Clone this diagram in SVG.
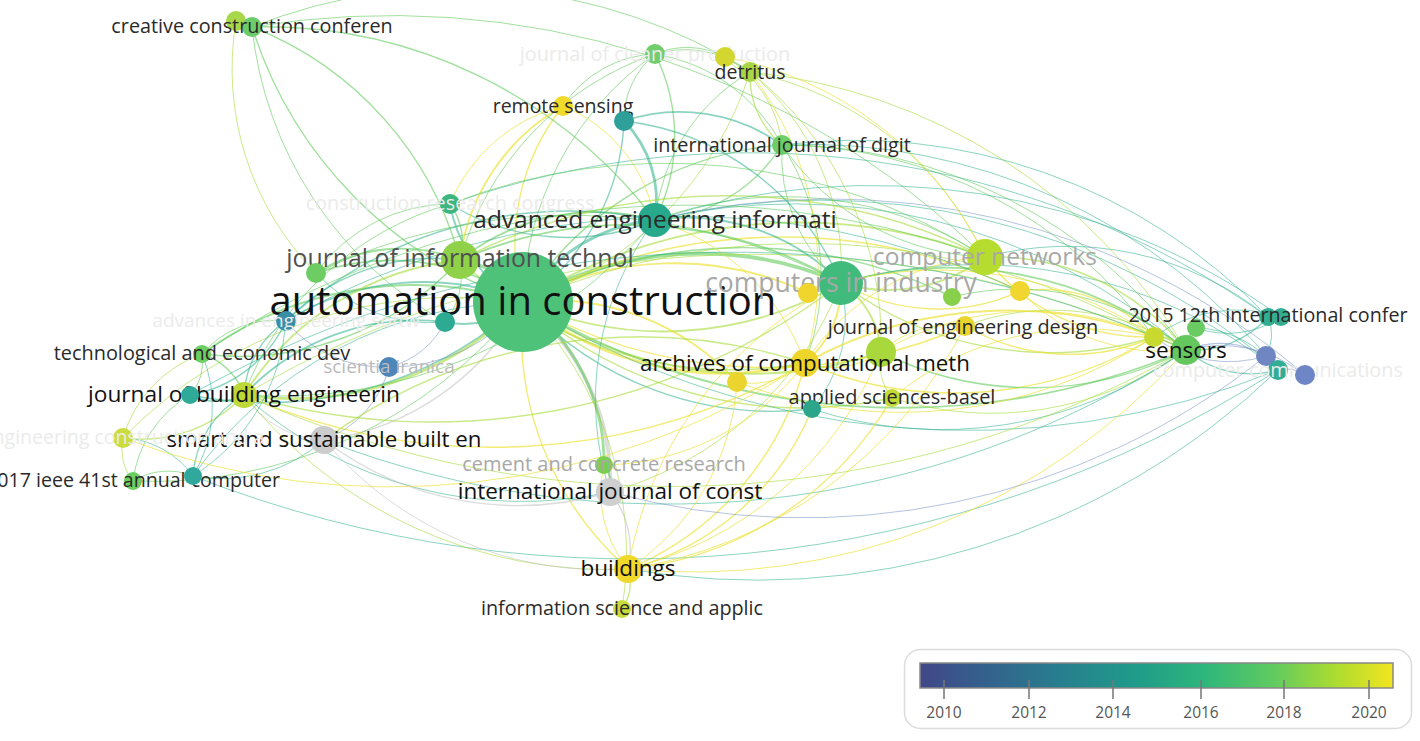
<svg xmlns="http://www.w3.org/2000/svg" width="1420" height="741" viewBox="0 0 1420 741">
<defs>
<linearGradient id="vir" x1="0" y1="0" x2="1" y2="0">
<stop offset="0" stop-color="#404788"/>
<stop offset="0.15" stop-color="#33638d"/>
<stop offset="0.3" stop-color="#277f8e"/>
<stop offset="0.45" stop-color="#1f9a8a"/>
<stop offset="0.6" stop-color="#2db67c"/>
<stop offset="0.75" stop-color="#62cb5f"/>
<stop offset="0.88" stop-color="#addc30"/>
<stop offset="1" stop-color="#f3e51f"/>
</linearGradient>
<style>
#connectors path{fill:none;stroke-linecap:round}
.g{stroke:#62cb5c;stroke-opacity:.6}
.t{stroke:#2db08d;stroke-opacity:.55}
.y{stroke:#ece33a;stroke-opacity:.7}
.l{stroke:#a6dc3a;stroke-opacity:.6}
.b{stroke:#6b88c2;stroke-opacity:.5}
.s{stroke:#c4c4c4;stroke-opacity:.6}
.w1{stroke-width:1}
.w2{stroke-width:1.4}
.w3{stroke-width:1.9}
.w4{stroke-width:2.8}
.w5{stroke-width:3.8}
text{font-family:"Open Sans","Noto Sans","Liberation Sans",sans-serif;text-anchor:middle}
.k0{fill:#111}
.k1{fill:#2a2a2a}
.k2{fill:#505050}
.k3{fill:#a8a8a8}
.k4{fill:#ebebeb}
.k5{fill:#bbb}
.lg{font-size:15.5px;fill:#555}
</style>
</defs>
<rect width="1420" height="741" fill="#fff"/>
<g id="connectors">
<path class="t w4" d="M523 302A175 175 0 0 1 655 220"/>
<path class="g w4" d="M523 302A90 90 0 0 0 460 260"/>
<path class="g w5" d="M523 302A350 350 0 0 1 841 283"/>
<path class="l w3" d="M523 302A350 350 0 0 0 841 283"/>
<path class="l w3" d="M523 302A520 520 0 0 1 985 257"/>
<path class="y w4" d="M523 302A320 320 0 0 0 805 363"/>
<path class="l w3" d="M523 302A400 400 0 0 0 881 352"/>
<path class="l w2" d="M523 302A420 420 0 0 0 892 398"/>
<path class="t w2" d="M523 302A340 340 0 0 0 812 409"/>
<path class="y w3" d="M523 302A250 250 0 0 1 737 382"/>
<path class="y w3" d="M523 302A315 315 0 0 1 808 293"/>
<path class="g w2" d="M523 302A470 470 0 0 1 952 297"/>
<path class="y w2" d="M523 302A550 550 0 0 1 1020 291"/>
<path class="g w3" d="M523 302A730 730 0 0 0 1186 350"/>
<path class="l w1" d="M523 302A700 700 0 0 1 1154 337"/>
<path class="y w2" d="M523 302A490 490 0 0 0 965 326"/>
<path class="t w1" d="M523 302A830 830 0 0 0 1278 370"/>
<path class="l w4" d="M523 302A325 325 0 0 1 244 395"/>
<path class="g w3" d="M523 302A360 360 0 0 0 202 354"/>
<path class="t w2" d="M523 302A380 380 0 0 1 190 395"/>
<path class="s w2" d="M523 302A265 265 0 0 1 324 440"/>
<path class="s w5" d="M523 302A230 230 0 0 1 610 492"/>
<path class="g w4" d="M523 302A200 200 0 0 1 604 465"/>
<path class="y w2" d="M523 302A315 315 0 0 0 628 569"/>
<path class="l w1" d="M523 302A355 355 0 0 1 622 609"/>
<path class="t w3" d="M523 302A260 260 0 0 0 286 321"/>
<path class="t w3" d="M523 302A90 90 0 0 1 445 322"/>
<path class="b w1" d="M523 302A165 165 0 0 1 389 367"/>
<path class="g w3" d="M523 302A230 230 0 0 0 316 273"/>
<path class="t w3" d="M523 302A135 135 0 0 1 450 204"/>
<path class="y w2" d="M523 302A220 220 0 0 1 563 106"/>
<path class="t w2" d="M523 302A230 230 0 0 0 624 121"/>
<path class="g w1" d="M523 302A310 310 0 0 1 655 54"/>
<path class="l w1" d="M523 302A355 355 0 0 0 750 72"/>
<path class="g w2" d="M523 302A335 335 0 0 1 782 145"/>
<path class="g w2" d="M523 302A425 425 0 0 1 252 27"/>
<path class="l w1" d="M523 302A465 465 0 0 0 123 438"/>
<path class="g w1" d="M523 302A470 470 0 0 1 133 481"/>
<path class="t w1" d="M523 302A410 410 0 0 0 193 476"/>
<path class="t w4" d="M655 220A115 115 0 0 0 624 121"/>
<path class="t w3" d="M655 220A215 215 0 0 1 841 283"/>
<path class="g w3" d="M655 220A220 220 0 0 0 460 260"/>
<path class="g w2" d="M655 220A160 160 0 0 0 782 145"/>
<path class="g w1" d="M655 220A195 195 0 0 1 750 72"/>
<path class="g w2" d="M655 220A185 185 0 0 0 655 54"/>
<path class="t w2" d="M655 220A225 225 0 0 1 450 204"/>
<path class="t w2" d="M655 220A420 420 0 0 0 286 321"/>
<path class="t w1" d="M655 220A600 600 0 0 1 1186 350"/>
<path class="g w1" d="M655 220A365 365 0 0 1 985 257"/>
<path class="y w1" d="M655 220A230 230 0 0 1 805 363"/>
<path class="g w1" d="M655 220A490 490 0 0 1 244 395"/>
<path class="t w1" d="M655 220A300 300 0 0 0 610 492"/>
<path class="t w1" d="M655 220A700 700 0 0 1 1278 370"/>
<path class="l w3" d="M841 283A160 160 0 0 0 985 257"/>
<path class="y w3" d="M841 283A100 100 0 0 1 805 363"/>
<path class="l w3" d="M841 283A90 90 0 0 1 881 352"/>
<path class="y w3" d="M841 283A40 40 0 0 0 808 293"/>
<path class="g w3" d="M841 283A385 385 0 0 1 1186 350"/>
<path class="l w2" d="M841 283A350 350 0 0 0 1154 337"/>
<path class="y w2" d="M841 283A195 195 0 0 0 1020 291"/>
<path class="g w3" d="M841 283A420 420 0 0 0 460 260"/>
<path class="g w1" d="M841 283A165 165 0 0 1 782 145"/>
<path class="t w1" d="M841 283A140 140 0 0 1 812 409"/>
<path class="l w2" d="M841 283A670 670 0 0 1 244 395"/>
<path class="t w1" d="M841 283A490 490 0 0 1 1278 370"/>
<path class="y w1" d="M841 283A390 390 0 0 0 628 569"/>
<path class="l w2" d="M985 257A245 245 0 0 1 1186 350"/>
<path class="y w2" d="M985 257A205 205 0 0 0 1154 337"/>
<path class="y w1" d="M985 257A230 230 0 0 0 805 363"/>
<path class="l w1" d="M985 257A330 330 0 0 0 750 72"/>
<path class="g w1" d="M985 257A255 255 0 0 1 782 145"/>
<path class="l w2" d="M985 257A580 580 0 0 0 460 260"/>
<path class="t w1" d="M985 257A320 320 0 0 1 1268 317"/>
<path class="y w3" d="M805 363A420 420 0 0 1 1186 350"/>
<path class="y w2" d="M805 363A385 385 0 0 0 1154 337"/>
<path class="y w2" d="M805 363A300 300 0 0 1 628 569"/>
<path class="l w2" d="M805 363A395 395 0 0 1 460 260"/>
<path class="y w2" d="M805 363A620 620 0 0 1 244 395"/>
<path class="y w2" d="M805 363A85 85 0 0 0 881 352"/>
<path class="y w1" d="M805 363A80 80 0 0 1 737 382"/>
<path class="g w2" d="M881 352A335 335 0 0 0 1186 350"/>
<path class="y w1" d="M881 352A365 365 0 0 1 628 569"/>
<path class="l w1" d="M881 352A55 55 0 0 0 892 398"/>
<path class="y w1" d="M881 352A100 100 0 0 1 965 326"/>
<path class="y w2" d="M1020 291A155 155 0 0 1 1154 337"/>
<path class="y w1" d="M1020 291A195 195 0 0 0 1186 350"/>
<path class="g w1" d="M952 297A265 265 0 0 1 1186 350"/>
<path class="y w2" d="M965 326A210 210 0 0 0 1154 337"/>
<path class="l w1" d="M965 326A245 245 0 0 1 1186 350"/>
<path class="y w1" d="M808 293A380 380 0 0 1 1154 337"/>
<path class="y w1" d="M737 382A460 460 0 0 0 1154 337"/>
<path class="l w1" d="M892 398A330 330 0 0 0 1186 350"/>
<path class="t w1" d="M812 409A415 415 0 0 0 1186 350"/>
<path class="y w1" d="M881 352A300 300 0 0 1 1154 337"/>
<path class="l w1" d="M750 72A570 570 0 0 1 1186 350"/>
<path class="g w1" d="M782 145A460 460 0 0 1 1154 337"/>
<path class="y w1" d="M892 398A300 300 0 0 1 1154 337"/>
<path class="l w3" d="M1186 350A40 40 0 0 0 1154 337"/>
<path class="g w3" d="M1186 350A30 30 0 0 1 1196 328"/>
<path class="t w2" d="M1186 350A100 100 0 0 0 1268 317"/>
<path class="b w2" d="M1186 350A90 90 0 0 1 1266 356"/>
<path class="t w2" d="M1186 350A100 100 0 0 0 1278 370"/>
<path class="b w1" d="M1186 350A135 135 0 0 1 1305 375"/>
<path class="t w1" d="M1196 328A95 95 0 0 0 1281 317"/>
<path class="t w1" d="M1268 317A45 45 0 0 1 1266 356"/>
<path class="b w1" d="M1266 356A22 22 0 0 0 1278 370"/>
<path class="b w1" d="M1278 370A32 32 0 0 1 1305 375"/>
<path class="b w1" d="M1154 337A125 125 0 0 0 1266 356"/>
<path class="t w1" d="M1196 328A105 105 0 0 1 1278 370"/>
<path class="t w1" d="M1154 337A140 140 0 0 1 1281 317"/>
<path class="l w1" d="M1154 337A1000 1000 0 0 0 244 395"/>
<path class="t w1" d="M1278 370A1200 1200 0 0 1 193 476"/>
<path class="t w1" d="M1186 350A950 950 0 0 1 324 440"/>
<path class="t w1" d="M1268 317A900 900 0 0 0 450 204"/>
<path class="b w1" d="M1305 375A730 730 0 0 0 655 220"/>
<path class="g w1" d="M252 27A850 850 0 0 1 985 257"/>
<path class="g w2" d="M252 27A345 345 0 0 1 460 260"/>
<path class="l w1" d="M236 21A290 290 0 0 0 316 273"/>
<path class="g w1" d="M252 27A385 385 0 0 0 445 322"/>
<path class="g w1" d="M252 27A550 550 0 0 1 750 72"/>
<path class="g w2" d="M252 27A490 490 0 0 1 655 220"/>
<path class="g w1" d="M655 54A80 80 0 0 1 725 57"/>
<path class="g w1" d="M655 54A105 105 0 0 1 750 72"/>
<path class="l w1" d="M725 57A35 35 0 0 0 750 72"/>
<path class="g w1" d="M655 54A175 175 0 0 1 782 145"/>
<path class="l w1" d="M725 57A115 115 0 0 1 782 145"/>
<path class="l w2" d="M750 72A90 90 0 0 0 782 145"/>
<path class="l w1" d="M750 72A255 255 0 0 1 841 283"/>
<path class="y w1" d="M725 57A360 360 0 0 1 985 257"/>
<path class="y w3" d="M563 106A205 205 0 0 0 460 260"/>
<path class="y w1" d="M563 106A165 165 0 0 0 450 204"/>
<path class="y w1" d="M563 106A150 150 0 0 1 655 220"/>
<path class="g w1" d="M563 106A115 115 0 0 1 655 54"/>
<path class="t w3" d="M624 121A175 175 0 0 1 782 145"/>
<path class="t w2" d="M624 121A270 270 0 0 1 841 283"/>
<path class="g w1" d="M624 121A85 85 0 0 1 655 54"/>
<path class="g w1" d="M782 145A500 500 0 0 1 1186 350"/>
<path class="g w1" d="M782 145A240 240 0 0 1 805 363"/>
<path class="l w1" d="M750 72A340 340 0 0 1 881 352"/>
<path class="y w1" d="M750 72A325 325 0 0 1 805 363"/>
<path class="g w1" d="M655 54A305 305 0 0 0 460 260"/>
<path class="g w2" d="M450 204A65 65 0 0 1 460 260"/>
<path class="g w1" d="M450 204A165 165 0 0 0 316 273"/>
<path class="g w1" d="M450 204A310 310 0 0 0 244 395"/>
<path class="g w3" d="M460 260A160 160 0 0 0 316 273"/>
<path class="l w3" d="M460 260A290 290 0 0 0 244 395"/>
<path class="g w2" d="M460 260A300 300 0 0 1 202 354"/>
<path class="t w2" d="M460 260A205 205 0 0 0 286 321"/>
<path class="g w1" d="M460 260A75 75 0 0 1 445 322"/>
<path class="t w2" d="M244 395A60 60 0 0 1 190 395"/>
<path class="g w2" d="M244 395A65 65 0 0 0 202 354"/>
<path class="l w2" d="M244 395A140 140 0 0 1 123 438"/>
<path class="s w1" d="M244 395A100 100 0 0 0 324 440"/>
<path class="t w2" d="M244 395A95 95 0 0 1 286 321"/>
<path class="t w3" d="M244 395A235 235 0 0 1 445 322"/>
<path class="t w1" d="M244 395A415 415 0 0 0 610 492"/>
<path class="l w1" d="M244 395A465 465 0 0 0 628 569"/>
<path class="l w1" d="M123 438A125 125 0 0 1 202 354"/>
<path class="l w1" d="M123 438A50 50 0 0 0 133 481"/>
<path class="t w1" d="M123 438A90 90 0 0 1 193 476"/>
<path class="t w1" d="M193 476A135 135 0 0 0 202 354"/>
<path class="t w1" d="M193 476A200 200 0 0 0 286 321"/>
<path class="g w1" d="M193 476A66 66 0 0 0 133 481"/>
<path class="t w2" d="M193 476A100 100 0 0 1 244 395"/>
<path class="t w1" d="M193 476A155 155 0 0 0 324 440"/>
<path class="g w1" d="M133 481A115 115 0 0 1 190 395"/>
<path class="b w1" d="M389 367A125 125 0 0 1 286 321"/>
<path class="b w1" d="M389 367A85 85 0 0 0 445 322"/>
<path class="b w1" d="M389 367A105 105 0 0 1 324 440"/>
<path class="s w2" d="M324 440A320 320 0 0 0 610 492"/>
<path class="s w1" d="M324 440A365 365 0 0 0 628 569"/>
<path class="s w2" d="M610 492A90 90 0 0 1 628 569"/>
<path class="y w1" d="M604 465A120 120 0 0 0 628 569"/>
<path class="l w2" d="M628 569A45 45 0 0 1 622 609"/>
<path class="g w3" d="M604 465A32 32 0 0 1 610 492"/>
<path class="y w2" d="M628 569A270 270 0 0 0 812 409"/>
<path class="y w1" d="M628 569A240 240 0 0 0 737 382"/>
<path class="y w2" d="M628 569A345 345 0 0 0 892 398"/>
<path class="y w1" d="M628 569A455 455 0 0 0 965 326"/>
<path class="y w1" d="M628 569A660 660 0 0 0 1186 350"/>
<path class="l w1" d="M610 492A345 345 0 0 0 841 283"/>
<path class="y w1" d="M604 465A255 255 0 0 0 805 363"/>
<path class="g w1" d="M286 321A95 95 0 0 0 202 354"/>
<path class="g w1" d="M190 395A48 48 0 0 0 202 354"/>
<path class="t w1" d="M445 322A155 155 0 0 1 316 273"/>
<path class="t w2" d="M286 321A130 130 0 0 1 190 395"/>
<path class="l w2" d="M324 440A535 535 0 0 1 805 363"/>
<path class="l w1" d="M244 395A1040 1040 0 0 0 1186 350"/>
<path class="y w1" d="M123 438A755 755 0 0 0 805 363"/>
<path class="g w1" d="M450 204A590 590 0 0 1 985 257"/>
<path class="g w1" d="M316 273A580 580 0 0 1 841 283"/>
<path class="t w1" d="M286 321A800 800 0 0 1 1020 291"/>
<path class="g w1" d="M202 354A870 870 0 0 1 985 257"/>
<path class="t w1" d="M190 395A1100 1100 0 0 1 1186 350"/>
<path class="t w1" d="M1268 317A570 570 0 0 0 782 145"/>
<path class="t w1" d="M1281 317A700 700 0 0 0 655 220"/>
<path class="t w1" d="M1278 370A600 600 0 0 0 782 145"/>
<path class="t w1" d="M1278 370A750 750 0 0 1 628 569"/>
<path class="b w1" d="M1266 356A740 740 0 0 1 610 492"/>
</g>
<g id="n-automation"><circle cx="523" cy="302" r="50" fill="#4fc27a"/><text x="523" y="315" class="k0" font-size="40">automation in construction</text></g>
<g id="n-computers-industry"><circle cx="841" cy="283" r="22" fill="#41bb7c"/><text x="841" y="292" class="k3" font-size="26.5">computers in industry</text></g>
<g id="n-jit"><circle cx="460" cy="260" r="19" fill="#8fd24a"/><text x="460" y="267" class="k2" font-size="24.8">journal of information technol</text></g>
<g id="n-computer-networks"><circle cx="985" cy="257" r="18" fill="#b7dc30"/><text x="985" y="265" class="k3" font-size="24.5">computer networks</text></g>
<g id="n-advanced"><circle cx="655" cy="220" r="17" fill="#27a98b"/><text x="655" y="228" class="k1" font-size="24.5">advanced engineering informati</text></g>
<g id="n-h"><circle cx="881" cy="352" r="15" fill="#a8d83c"/></g>
<g id="n-archives"><circle cx="805" cy="363" r="14" fill="#edd52a"/><text x="805" y="371" class="k0" font-size="22.3">archives of computational meth</text></g>
<g id="n-sensors"><circle cx="1186" cy="350" r="15" fill="#64c85f"/><text x="1186" y="358" class="k0" font-size="22.5">sensors</text></g>
<g id="n-jbe"><circle cx="244" cy="395" r="13" fill="#bcd938"/><text x="244" y="402" class="k0" font-size="22.7">journal of building engineerin</text></g>
<g id="n-smart"><circle cx="324" cy="440" r="14" fill="#cccccc"/><text x="324" y="447" class="k0" font-size="22.3">smart and sustainable built en</text></g>
<g id="n-ijc"><circle cx="610" cy="492" r="14" fill="#cfcfcf"/><text x="610" y="499" class="k0" font-size="22.5">international journal of const</text></g>
<g id="n-buildings"><circle cx="628" cy="569" r="14" fill="#f0d92a"/><text x="628" y="576" class="k0" font-size="22.5">buildings</text></g>
<g id="n-info-science"><circle cx="622" cy="609" r="9" fill="#c8dc3c"/><text x="622" y="615" class="k1" font-size="19.8">information science and applic</text></g>
<g id="n-cement"><circle cx="604" cy="465" r="9" fill="#7bcf50"/><text x="604" y="471" class="k3" font-size="20">cement and concrete research</text></g>
<g id="n-eng-design"><circle cx="965" cy="326" r="10" fill="#ead52c"/><text x="963" y="334" class="k1" font-size="19.9">journal of engineering design</text></g>
<g id="n-applied"><circle cx="892" cy="398" r="9" fill="#c4da35"/><text x="892" y="404" class="k1" font-size="19.9">applied sciences-basel</text></g>
<g id="n-j"><circle cx="812" cy="409" r="9" fill="#2ba68a"/></g>
<g id="n-k"><circle cx="737" cy="382" r="10" fill="#ecd42e"/></g>
<g id="n-l"><circle cx="808" cy="293" r="10" fill="#efd52c"/></g>
<g id="n-m"><circle cx="952" cy="297" r="9" fill="#88cf4c"/></g>
<g id="n-n"><circle cx="1020" cy="291" r="10" fill="#f0d62e"/></g>
<g id="n-q"><circle cx="1154" cy="337" r="10" fill="#c8da30"/></g>
<g id="n-r"><circle cx="1196" cy="328" r="9" fill="#6acb62"/></g>
<g id="n-2015-conf"><circle cx="1268" cy="317" r="9" fill="#31ad92"/><circle cx="1281" cy="317" r="9" fill="#34ae90"/><text x="1268" y="322" class="k1" font-size="19.7">2015 12th international confer</text></g>
<g id="n-s"><circle cx="1266" cy="356" r="10" fill="#6f86c3"/></g>
<g id="n-computer-comm"><circle cx="1278" cy="370" r="10" fill="#33ac95"/><text x="1278" y="377" class="k4" font-size="19.9">computer communications</text></g>
<g id="n-u"><circle cx="1305" cy="375" r="10" fill="#6f86c6"/></g>
<g id="n-creative"><circle cx="236" cy="21" r="10" fill="#a8d84a"/><circle cx="252" cy="27" r="10" fill="#6dcc6a"/><text x="252" y="33" class="k1" font-size="19.8">creative construction conferen</text></g>
<g id="n-cleaner"><circle cx="655" cy="54" r="10" fill="#72cd6c"/><text x="655" y="61" class="k4" font-size="19.9">journal of cleaner production</text></g>
<g id="n-x"><circle cx="725" cy="57" r="10" fill="#d2d62e"/></g>
<g id="n-detritus"><circle cx="750" cy="72" r="10" fill="#a8d647"/><text x="750" y="79" class="k1" font-size="19.5">detritus</text></g>
<g id="n-remote"><circle cx="563" cy="106" r="10" fill="#f0da2c"/><text x="563" y="113" class="k1" font-size="19.5">remote sensing</text></g>
<g id="n-aa"><circle cx="624" cy="121" r="10" fill="#2f9f9a"/></g>
<g id="n-digit"><circle cx="782" cy="145" r="10" fill="#6dcd67"/><text x="782" y="152" class="k1" font-size="19.8">international journal of digit</text></g>
<g id="n-crc"><circle cx="450" cy="204" r="10" fill="#3cb67e"/><text x="450" y="210" class="k4" font-size="19.8">construction research congress</text></g>
<g id="n-ad"><circle cx="316" cy="273" r="10" fill="#6dcd62"/></g>
<g id="n-advances"><circle cx="286" cy="321" r="10" fill="#3a8fa8"/><text x="286" y="327" class="k4" font-size="19">advances in engineering softw</text></g>
<g id="n-af"><circle cx="445" cy="322" r="10" fill="#2daa92"/></g>
<g id="n-scientia"><circle cx="389" cy="367" r="10" fill="#4e86ba"/><text x="389" y="373" class="k5" font-size="19">scientia iranica</text></g>
<g id="n-tech-econ"><circle cx="202" cy="354" r="9" fill="#6ccd60"/><text x="202" y="360" class="k1" font-size="19.9">technological and economic dev</text></g>
<g id="n-aj"><circle cx="190" cy="395" r="9" fill="#2faa98"/></g>
<g id="n-eng-constr"><circle cx="123" cy="438" r="10" fill="#cbdc3c"/><text x="123" y="444" class="k4" font-size="19.5">engineering construction and a</text></g>
<g id="n-ieee"><circle cx="133" cy="481" r="9" fill="#6ccd60"/><text x="133" y="487" class="k1" font-size="19.6">2017 ieee 41st annual computer</text></g>
<g id="n-an"><circle cx="193" cy="476" r="9" fill="#30a99c"/></g>
<g id="legend">
<rect x="904.5" y="649.5" width="507" height="79" rx="16" fill="#fff" stroke="#dcdcdc" stroke-width="1.5"/>
<rect x="920" y="663" width="473" height="25" fill="url(#vir)" stroke="#888" stroke-width="1.5"/>
<path d="M944 680V699M1029 680V699M1113 680V699M1201 680V699M1284 680V699M1369 680V699" stroke="#777" stroke-width="1.5"/>
<text x="944" y="718" class="lg">2010</text>
<text x="1029" y="718" class="lg">2012</text>
<text x="1113" y="718" class="lg">2014</text>
<text x="1201" y="718" class="lg">2016</text>
<text x="1284" y="718" class="lg">2018</text>
<text x="1369" y="718" class="lg">2020</text>
</g>
</svg>
